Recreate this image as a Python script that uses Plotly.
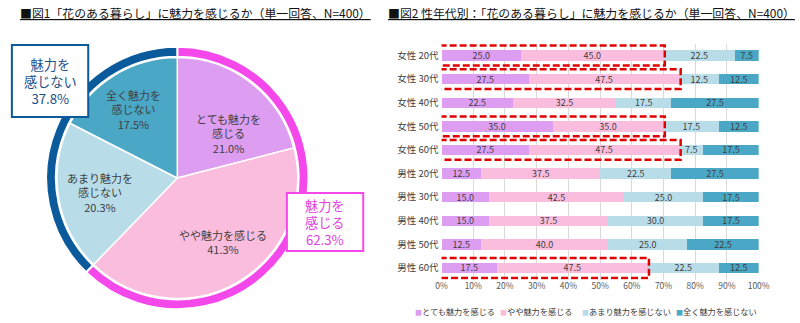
import plotly.graph_objects as go

W, H = 800, 323
FONT = "Noto Sans CJK JP"

# ---------- data ----------
pie_labels = ["とても魅力を感じる", "やや魅力を感じる", "あまり魅力を感じない", "全く魅力を感じない"]
pie_label_lines = ["とても魅力を<br>感じる", "やや魅力を感じる", "あまり魅力を<br>感じない", "全く魅力を<br>感じない"]
pie_values = [21.0, 41.3, 20.3, 17.5]

group_labels = ["魅力を<br>感じる", "魅力を<br>感じない"]

categories = ["女性 20代", "女性 30代", "女性 40代", "女性 50代", "女性 60代",
              "男性 20代", "男性 30代", "男性 40代", "男性 50代", "男性 60代"]
series_names = pie_labels
s_very = [25.0, 27.5, 22.5, 35.0, 27.5, 12.5, 15.0, 15.0, 12.5, 17.5]
s_some = [45.0, 47.5, 32.5, 35.0, 47.5, 37.5, 42.5, 37.5, 40.0, 47.5]
s_little = [22.5, 12.5, 17.5, 17.5, 7.5, 22.5, 25.0, 30.0, 25.0, 22.5]
s_none = [7.5, 12.5, 27.5, 12.5, 17.5, 27.5, 17.5, 17.5, 22.5, 12.5]
highlighted = ["女性 20代", "女性 30代", "女性 50代", "女性 60代", "男性 60代"]

x_ticks = [0, 10, 20, 30, 40, 50, 60, 70, 80, 90, 100]
x_ticktext = [f"{v}%" for v in x_ticks]

title1 = "■図1「花のある暮らし」に魅力を感じるか（単一回答、N=400）"
title2 = "■図2 性年代別：「花のある暮らし」に魅力を感じるか（単一回答、N=400）"

# ---------- styles ----------
colors = ["#DD9DF0", "#FBBDDE", "#B8DDE9", "#4AA7C5"]
ring_colors = ["#F548EA", "#0B5A9B"]
text_col = "#404040"


def px(x, y):
    return x / W, 1 - y / H


fig = go.Figure()

# ----- pie (left) -----
cx, cy = 175, 178
r_in, r_ring = 123, 134


def dom(r):
    return dict(x=[(cx - r) / W, (cx + r) / W], y=[1 - (cy + r) / H, 1 - (cy - r) / H])


pos_total = pie_values[0] + pie_values[1]
neg_total = pie_values[2] + pie_values[3]

fig.add_trace(go.Pie(
    values=[pos_total, neg_total], labels=group_labels, sort=False, direction="clockwise",
    rotation=0, hole=(r_in + 1) / r_ring, domain=dom(r_ring), textinfo="none",
    marker=dict(colors=ring_colors, line=dict(color="white", width=2)),
    showlegend=False, hoverinfo="skip"))

fig.add_trace(go.Pie(
    values=pie_values, labels=pie_labels, sort=False, direction="clockwise",
    rotation=0, domain=dom(r_in), textinfo="none",
    marker=dict(colors=colors, line=dict(color="white", width=1.5)),
    showlegend=False))

slice_pos = [(227, 133), (222, 242), (96, 192), (130, 110)]
for lab, v, (x, y) in zip(pie_label_lines, pie_values, slice_pos):
    ax, ay = px(x, y)
    fig.add_annotation(x=ax, y=ay, xref="paper", yref="paper", text=f"{lab}<br>{v:.1f}%",
                       showarrow=False, font=dict(family=FONT, size=11, color=text_col),
                       align="center", xanchor="center", yanchor="middle")

# callout boxes
boxes = [((287, 193, 365, 251), group_labels[0], pos_total, ring_colors[0], "#E03FE0"),
         ((6, 45, 84, 117), group_labels[1], neg_total, ring_colors[1], "#1E4F85")]
for (x0, y0, x1, y1), lab, v, bc, tc in boxes:
    a0 = px(x0, y0)
    a1 = px(x1, y1)
    fig.add_shape(type="rect", xref="paper", yref="paper", x0=a0[0], x1=a1[0], y0=a1[1], y1=a0[1],
                  line=dict(color=bc, width=2), fillcolor="white", layer="above")
    mx, my = px((x0 + x1) / 2, (y0 + y1) / 2)
    fig.add_annotation(x=mx, y=my, xref="paper", yref="paper", text=f"{lab}<br>{v:.1f}%",
                       showarrow=False, font=dict(family=FONT, size=13.2, color=tc),
                       align="center", xanchor="center", yanchor="middle")

# ----- bars (right) -----
for name, vals, c in zip(series_names, [s_very, s_some, s_little, s_none], colors):
    fig.add_trace(go.Bar(
        y=categories, x=vals, name=name, orientation="h", marker=dict(color=c, line=dict(width=0)),
        text=vals, texttemplate="%{x:.1f}", textposition="inside", insidetextanchor="middle",
        textangle=0, constraintext="none", textfont=dict(family=FONT, size=9, color=text_col),
        showlegend=False, xaxis="x", yaxis="y"))

for cat in highlighted:
    i = categories.index(cat)
    end = s_very[i] + s_some[i]
    fig.add_shape(type="rect", xref="x", yref="y", x0=-0.6, x1=end + 0.4, y0=i - 0.42, y1=i + 0.42,
                  line=dict(color="#E00000", width=2.5, dash="7px,3px"), fillcolor="rgba(0,0,0,0)")

# legend drawn as text items
leg_x = [416, 503, 586, 682]
leg_y = 311
for name, c, x in zip(series_names, colors, leg_x):
    ax, ay = px(x, leg_y)
    fig.add_annotation(x=ax, y=ay, xref="paper", yref="paper",
                       text=f"<span style='color:{c};font-size:7px'>■</span>{name}", showarrow=False,
                       font=dict(family=FONT, size=8.2, color=text_col), xanchor="left", yanchor="middle")

# titles
for t, x in [(title1, 12), (title2, 388)]:
    ax, ay = px(x, 12.5)
    fig.add_annotation(x=ax, y=ay, xref="paper", yref="paper", text=t, showarrow=False,
                       font=dict(family=FONT, size=11.9, color="#111111", lineposition="under"),
                       xanchor="left", yanchor="middle")

y_top, y_bot = 43.7, 279.8
fig.update_layout(
    width=W, height=H, margin=dict(l=0, r=0, t=0, b=0),
    paper_bgcolor="white", plot_bgcolor="white",
    barmode="stack", bargap=0.56,
    uniformtext=dict(minsize=9, mode="show"),
    xaxis=dict(domain=[445 / W, 769 / W], range=[0, 100], tickvals=x_ticks, ticktext=x_ticktext,
               showgrid=True, gridcolor="#D9D9D9", gridwidth=1, zeroline=False, showline=False,
               tickfont=dict(family=FONT, size=8.5, color="#595959"), fixedrange=True),
    yaxis=dict(domain=[1 - y_bot / H, 1 - y_top / H], autorange="reversed", showgrid=False,
               zeroline=False, showline=False, ticks="", ticklabelstandoff=2,
               tickfont=dict(family=FONT, size=9.5, color=text_col), fixedrange=True),
    font=dict(family=FONT),
)

fig.write_html("out.html")
